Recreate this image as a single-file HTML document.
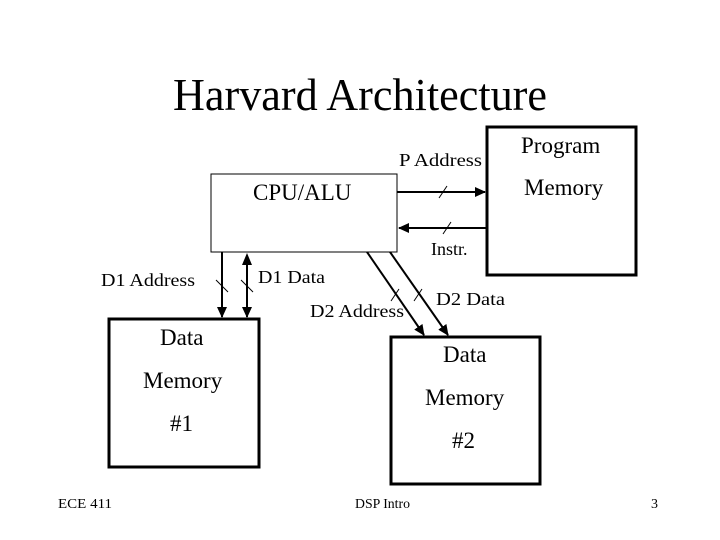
<!DOCTYPE html>
<html><head><meta charset="utf-8"><style>body{margin:0;background:#fff}svg{display:block}</style></head><body>
<svg width="720" height="540" viewBox="0 0 720 540" xmlns="http://www.w3.org/2000/svg" font-family="Liberation Serif, serif" fill="#000">
<defs><marker id="a" markerWidth="11" markerHeight="10" refX="10" refY="5" orient="auto" markerUnits="userSpaceOnUse"><path d="M0,0 L11,5 L0,10 z"/></marker></defs>
<text x="173" y="110" font-size="46" textLength="374" lengthAdjust="spacingAndGlyphs">Harvard Architecture</text>
<rect x="211" y="174" width="186" height="78" fill="none" stroke="#000" stroke-width="1"/>
<rect x="487" y="127" width="149" height="148" fill="none" stroke="#000" stroke-width="3"/>
<rect x="109" y="319" width="150" height="148" fill="none" stroke="#000" stroke-width="3"/>
<rect x="391" y="337" width="149" height="147" fill="none" stroke="#000" stroke-width="3"/>
<g stroke="#000" stroke-width="2" fill="none">
<line x1="397" y1="192" x2="485" y2="192" marker-end="url(#a)"/>
<line x1="486" y1="228" x2="399" y2="228" marker-end="url(#a)"/>
<line x1="222" y1="252" x2="222" y2="317" marker-end="url(#a)"/>
<line x1="247" y1="264" x2="247" y2="317" marker-end="url(#a)"/>
<line x1="367" y1="252" x2="424" y2="335" marker-end="url(#a)"/>
<line x1="390" y1="252" x2="448" y2="335" marker-end="url(#a)"/>
</g>
<path d="M247,253 L242,265 L252,265 z"/>
<g stroke="#000" stroke-width="1">
<line x1="439" y1="198" x2="447" y2="186"/>
<line x1="443" y1="234" x2="451" y2="222"/>
<line x1="216" y1="280" x2="228" y2="292"/>
<line x1="241" y1="280" x2="253" y2="292"/>
<line x1="391" y1="301" x2="399" y2="289"/>
<line x1="414" y1="301" x2="422" y2="289"/>
</g>
<g font-size="23">
<text x="521" y="153">Program</text>
<text x="524" y="195">Memory</text>
<text x="253" y="200">CPU/ALU</text>
<text x="160" y="345">Data</text>
<text x="143" y="388">Memory</text>
<text x="170" y="431">#1</text>
<text x="443" y="362">Data</text>
<text x="425" y="405">Memory</text>
<text x="452" y="448">#2</text>
</g>
<g font-size="18">
<text x="399" y="166" textLength="83" lengthAdjust="spacingAndGlyphs">P Address</text>
<text x="431" y="255">Instr.</text>
<text x="101" y="286" textLength="94" lengthAdjust="spacingAndGlyphs">D1 Address</text>
<text x="258" y="283" textLength="67" lengthAdjust="spacingAndGlyphs">D1 Data</text>
<text x="310" y="317" textLength="94" lengthAdjust="spacingAndGlyphs">D2 Address</text>
<text x="436" y="305" textLength="69" lengthAdjust="spacingAndGlyphs">D2 Data</text>
</g>
<g font-size="14">
<text x="58" y="508" textLength="54" lengthAdjust="spacingAndGlyphs">ECE 411</text>
<text x="355" y="508" textLength="55" lengthAdjust="spacingAndGlyphs">DSP Intro</text>
<text x="651" y="508">3</text>
</g>
</svg>
</body></html>
